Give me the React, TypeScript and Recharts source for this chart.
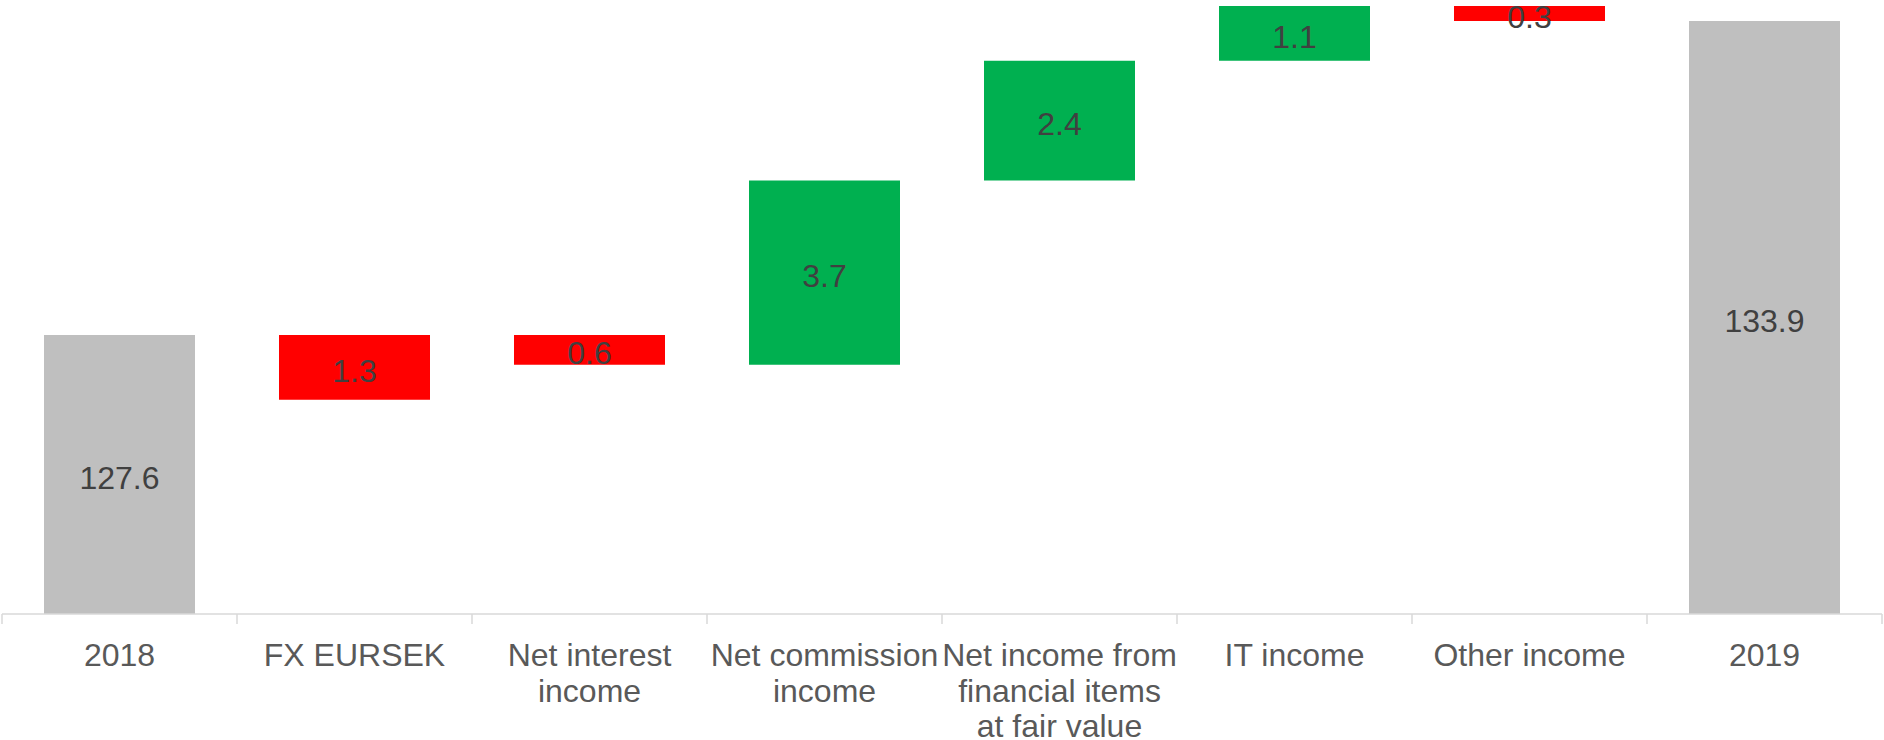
import { Bar, BarChart, Cell, LabelList, XAxis, YAxis } from "recharts";

const WIDTH = 1884;
const HEIGHT = 740;
const AXIS_MIN = 122;
const AXIS_MAX = 134.2;

const categories = [
  "2018",
  "FX EURSEK",
  "Net interest\nincome",
  "Net commission\nincome",
  "Net income from\nfinancial items\nat fair value",
  "IT income",
  "Other income",
  "2019",
];
// signed change for each step, totals are the level itself
const amounts = [127.6, -1.3, -0.6, 3.7, 2.4, 1.1, -0.3, 133.9];
const isTotal = [true, false, false, false, false, false, false, true];
const startLevels = [AXIS_MIN, 127.6, 127.6, 127.0, 130.7, 133.1, 134.2, AXIS_MIN];

const GREY = "#bfbfbf";
const RED = "#ff0000";
const GREEN = "#00b050";

const data = categories.map((name, i) => {
  const lo = isTotal[i] ? AXIS_MIN : Math.min(startLevels[i], startLevels[i] + amounts[i]);
  const hi = isTotal[i] ? amounts[i] : Math.max(startLevels[i], startLevels[i] + amounts[i]);
  return {
    name,
    range: [lo, hi],
    label: Math.abs(amounts[i]).toFixed(1),
    color: isTotal[i] ? GREY : amounts[i] < 0 ? RED : GREEN,
  };
});

const MARGIN = { top: 6, right: 2, bottom: 0, left: 2 };
const BAND = (WIDTH - MARGIN.left - MARGIN.right) / categories.length;

function CategoryTick(props: any) {
  const { x, y, payload, index } = props;
  const lines = String(payload.value).split("\n");
  const last = index === categories.length - 1;
  return (
    <g>
      <line x1={x - BAND / 2} x2={x - BAND / 2} y1={y} y2={y + 10} stroke="#d9d9d9" strokeWidth={1.5} />
      {last && (
        <line x1={x + BAND / 2} x2={x + BAND / 2} y1={y} y2={y + 10} stroke="#d9d9d9" strokeWidth={1.5} />
      )}
      <text x={x} y={y + 52} textAnchor="middle" fill="#595959" fontSize={32}>
        {lines.map((line, i) => (
          <tspan key={i} x={x} dy={i === 0 ? 0 : 35.5}>
            {line}
          </tspan>
        ))}
      </text>
    </g>
  );
}

export default function App() {
  return (
    <div
      style={{
        position: "absolute",
        left: 0,
        top: 0,
        width: WIDTH,
        height: HEIGHT,
        background: "#fff",
        fontFamily: "'Liberation Sans', Arial, sans-serif",
      }}
    >
      <BarChart width={WIDTH} height={HEIGHT} data={data} margin={MARGIN}>
        <XAxis
          dataKey="name"
          interval={0}
          height={126}
          tickLine={false}
          tickSize={0}
          tickMargin={0}
          axisLine={{ stroke: "#d9d9d9", strokeWidth: 1.5 }}
          tick={<CategoryTick />}
        />
        <YAxis hide domain={[AXIS_MIN, AXIS_MAX]} allowDataOverflow />
        <Bar dataKey="range" barSize={151} isAnimationActive={false}>
          {data.map((d, i) => (
            <Cell key={i} fill={d.color} />
          ))}
          <LabelList dataKey="label" position="center" fill="#404040" fontSize={32} dy={3} />
        </Bar>
      </BarChart>
    </div>
  );
}
